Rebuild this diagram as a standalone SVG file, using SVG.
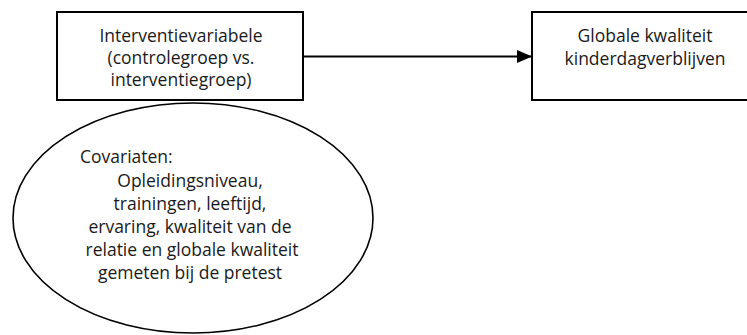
<svg xmlns="http://www.w3.org/2000/svg" width="747" height="335" viewBox="0 0 747 335">
<defs>
<style>
.box{fill:#fff;stroke:#000;stroke-width:2}
.t{font-family:"Open Sans","Liberation Sans",sans-serif;font-size:17.5px;fill:#1a1a1a;text-anchor:middle}
.conn{stroke:#000;stroke-width:2;fill:none}
</style>
<marker id="ah" markerWidth="15" markerHeight="13" refX="15" refY="6.5" orient="auto" markerUnits="userSpaceOnUse" viewBox="0 0 15 13">
<path d="M0,0 L15,6.5 L0,13 z" fill="#000"/>
</marker>
</defs>
<rect width="747" height="335" fill="#fff"/>
<g id="connectors">
<line class="conn" x1="303" y1="56.5" x2="532" y2="56.5" marker-end="url(#ah)"/>
</g>
<g id="node-intervention">
<rect class="box" x="57" y="12" width="246" height="88"/>
<text class="t" x="181" y="42">Interventievariabele</text>
<text class="t" x="181" y="64">(controlegroep vs.</text>
<text class="t" x="181" y="86">interventiegroep)</text>
</g>
<g id="node-quality">
<rect class="box" x="532" y="12" width="228" height="88"/>
<text class="t" x="645" y="42">Globale kwaliteit</text>
<text class="t" x="645" y="65">kinderdagverblijven</text>
</g>
<g id="node-covariates">
<ellipse class="box" cx="193" cy="218" rx="180" ry="115" style="stroke-width:1.6"/>
<text class="t" x="80" y="163" style="text-anchor:start">Covariaten:</text>
<text class="t" x="190" y="187">Opleidingsniveau,</text>
<text class="t" x="190" y="210">trainingen, leeftijd,</text>
<text class="t" x="190" y="233">ervaring, kwaliteit van de</text>
<text class="t" x="192" y="256">relatie en globale kwaliteit</text>
<text class="t" x="190" y="279">gemeten bij de pretest</text>
</g>
</svg>
